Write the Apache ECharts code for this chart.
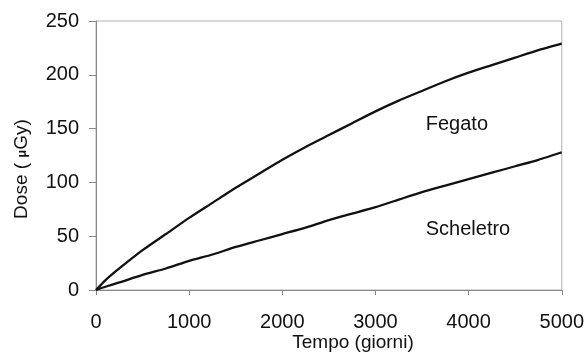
<!DOCTYPE html>
<html><head><meta charset="utf-8">
<script src="https://cdn.jsdelivr.net/npm/echarts@6/dist/echarts.min.js"></script>
<style>html,body{margin:0;padding:0;background:#fff}#c{width:587px;height:354px}</style>
</head><body><div id="c"></div>
<script>
const days = [0,100,250,500,750,1000,1250,1500,1750,2000,2250,2500,2750,3000,3250,3500,3750,4000,4250,4500,4750,5000];
const fegato = [0,9,20,37,52,67,81,95,108,121,133,144,155,166,176,185,194,202,209,216,223,229];
const scheletro = [0,3,7,14,20,27,33,40,46,52,58,65,71,77,84,91,97,103,109,115,121,128];
const xTicks = [0,1000,2000,3000,4000,5000];
const yTicks = [0,50,100,150,200,250];
const seriesNames = ['Fegato','Scheletro'];

const chart = echarts.init(document.getElementById('c'));
const font = 'Liberation Sans';
chart.setOption({
  animation:false,
  grid:{left:96,right:25,top:21,bottom:64,show:true,borderColor:'#b0b0b0',borderWidth:1},
  xAxis:{type:'value',min:0,max:5000,interval:1000,
    axisLine:{lineStyle:{color:'#888',width:1}},
    axisTick:{show:true,inside:false,length:5,lineStyle:{color:'#888'}},
    splitLine:{show:false},
    axisLabel:{margin:22,fontSize:20,color:'#111',fontFamily:font,
      formatter:v=>xTicks.includes(v)?String(v):''}},
  yAxis:{type:'value',min:0,max:250,interval:50,
    axisLine:{show:true,lineStyle:{color:'#888',width:1}},
    axisTick:{show:true,inside:false,length:7,lineStyle:{color:'#888'}},
    splitLine:{show:false},
    axisLabel:{margin:17,fontSize:20,color:'#111',fontFamily:font,
      formatter:v=>yTicks.includes(v)?String(v):''}},
  series:[
    {name:seriesNames[0],type:'line',data:days.map((d,i)=>[d,fegato[i]]),showSymbol:false,smooth:0.2,
     lineStyle:{color:'#111',width:2.3}},
    {name:seriesNames[1],type:'line',data:days.map((d,i)=>[d,scheletro[i]]),showSymbol:false,smooth:0.2,
     lineStyle:{color:'#111',width:2.3}}
  ]
});
const p1 = chart.convertToPixel({gridIndex:0},[3540,154]);
const p2 = chart.convertToPixel({gridIndex:0},[3540,56]);
chart.setOption({graphic:[
  {type:'text',x:353,y:343,style:{text:'Tempo (giorni)',fontSize:19,fontFamily:font,fill:'#111',align:'center',verticalAlign:'middle'}},
  {type:'text',x:22,y:169,rotation:Math.PI/2,style:{rich:{n:{fontSize:19,fontFamily:font,fill:'#111'},m:{fontSize:13,fontWeight:'bold',fontFamily:font,fill:'#111'}},text:'{n|Dose ( }{m|μ}{n|Gy)}',align:'center',verticalAlign:'middle'}},
  {type:'text',x:p1[0],y:p1[1],style:{text:seriesNames[0],fontSize:20,fontFamily:font,fill:'#111',verticalAlign:'middle'}},
  {type:'text',x:p2[0],y:p2[1],style:{text:seriesNames[1],fontSize:20,fontFamily:font,fill:'#111',verticalAlign:'middle'}}
]});
</script></body></html>
